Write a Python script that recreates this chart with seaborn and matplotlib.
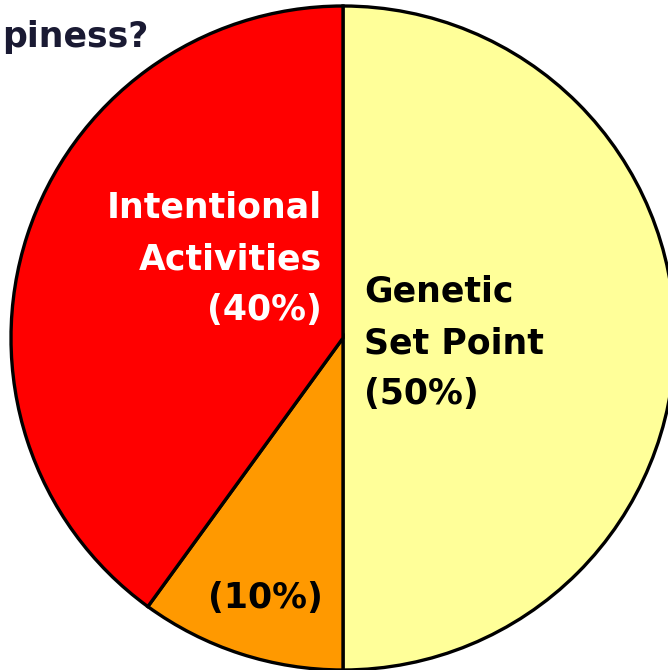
import matplotlib
matplotlib.use("Agg")
import matplotlib.pyplot as plt
import seaborn as sns

# Slice data (clockwise from top)
labels = [["Genetic", "Set Point", "(50%)"], ["(10%)"], ["Intentional", "Activities", "(40%)"]]
shares = [50, 10, 40]
colors = ["#FFFF99", "#FF9900", "#FF0000"]
text_colors = ["black", "black", "white"]

sns.set_style("white")
plt.rcParams["font.family"] = ["DejaVu Sans"]

W, H = 668, 670
fig = plt.figure(figsize=(W / 100, H / 100), dpi=100)
ax = fig.add_axes([0, 0, 1, 1])

cx, cy, r = 343, H - 338, 332
ax.pie(shares, colors=sns.color_palette(colors), startangle=90, counterclock=False,
       center=(cx, cy), radius=r, frame=False,
       wedgeprops=dict(edgecolor="black", linewidth=2.4))
ax.set_xlim(0, W)
ax.set_ylim(0, H)
ax.set_aspect("equal")
ax.axis("off")

# Slice labels, one line at a time
fs = 25
for i, line in enumerate(labels[0]):
    ax.text(364, H - (292 + 51 * i), line, ha="left", va="center", fontsize=fs,
            fontweight="bold", color=text_colors[0])
ax.text(265, H - 598, labels[1][0], ha="center", va="center", fontsize=fs,
        fontweight="bold", color=text_colors[1])
for i, line in enumerate(labels[2]):
    ax.text(322, H - (208 + 51 * i), line, ha="right", va="center", fontsize=fs,
            fontweight="bold", color=text_colors[2])

# Cropped title fragment
ax.text(2, H - 37, "piness?", ha="left", va="center", fontsize=fs,
        fontweight="bold", color="#1A1A33")

fig.savefig("out.png", dpi=100)
